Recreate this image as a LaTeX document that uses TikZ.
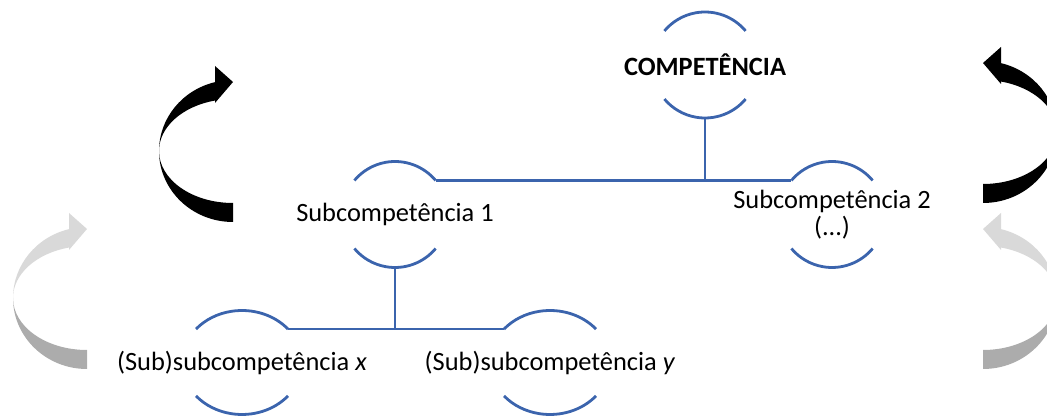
\documentclass[tikz,border=0pt]{standalone}
\usepackage{fontspec}
\setmainfont{Carlito}
\definecolor{linkblue}{RGB}{59,100,173}

% round brackets above and below a name
\newcommand{\brackets}[3]{%
  \draw[link] ([shift={(40:#2 and #3)}]#1.center) arc[start angle=40, end angle=140, x radius=#2, y radius=#3];
  \draw[link] ([shift={(-40:#2 and #3)}]#1.center) arc[start angle=-40, end angle=-140, x radius=#2, y radius=#3];}

% twisted loop arrow: upper half with head, lower half
\newcommand{\ribbon}[3]{%
  \begin{scope}[#1]
    \fill[#2] (104.08:74 and 71) -- (-18,85) -- (0,69) -- (-18,48)
          -- (104.08:74 and 52) arc[start angle=104.08, end angle=180, x radius=74, y radius=52]
          arc[start angle=180, end angle=104.08, x radius=74, y radius=71] -- cycle;
    \fill[#3] (-74,0) arc[start angle=180, end angle=270, x radius=74, y radius=71]
          -- (0,-52) arc[start angle=270, end angle=180, x radius=74, y radius=52] -- cycle;
  \end{scope}}

\begin{document}
\begin{tikzpicture}[x=0.5pt, y=0.5pt,
    link/.style={draw=linkblue, line width=1.4pt},
    txt/.style={font=\fontsize{13.2}{13.5}\selectfont, align=center, inner sep=0pt}]
    \useasboundingbox (0,0) rectangle (1047,416);
    \clip (0,0) rectangle (1047,416);
    \ribbon{shift={(233,265)}}{black}{black}
    \ribbon{shift={(87,118)}}{gray!30}{gray!65}
    \ribbon{shift={(983,284)}, xscale=-1}{black}{black}
    \ribbon{shift={(983,118)}, xscale=-1}{gray!30}{gray!65}
    \draw (705,351) node (comp) [txt] {\textbf{COMPETÊNCIA}}
          (395,201.5) node (sub1) [txt] {Subcompetência 1}
          (832,201.5) node (sub2) [txt] {Subcompetência 2\\(...)}
          (242,53.5) node (subx) [txt] {(Sub)subcompetência \textit{x}}
          (550,53.5) node (suby) [txt] {(Sub)subcompetência \textit{y}};
    \brackets{comp}{53}{53}
    \brackets{sub1}{53}{53}
    \brackets{sub2}{53}{53}
    \brackets{subx}{60}{52}
    \brackets{suby}{60}{52}
    \coordinate (s1r) at ([shift={(40:53)}]sub1.center);
    \coordinate (s2l) at ([shift={(140:53)}]sub2.center);
    \coordinate (sxr) at ([shift={(40:60 and 52)}]subx.center);
    \coordinate (syl) at ([shift={(140:60 and 52)}]suby.center);
    \draw[link] (s1r) -- (s2l)
                ([shift={(0,-53)}]comp.center) -- (comp.center |- s1r)
                ([shift={(0,-53)}]sub1.center) -- (sub1.center |- sxr)
                (sxr) -- (syl);
  \end{tikzpicture}
\end{document}
